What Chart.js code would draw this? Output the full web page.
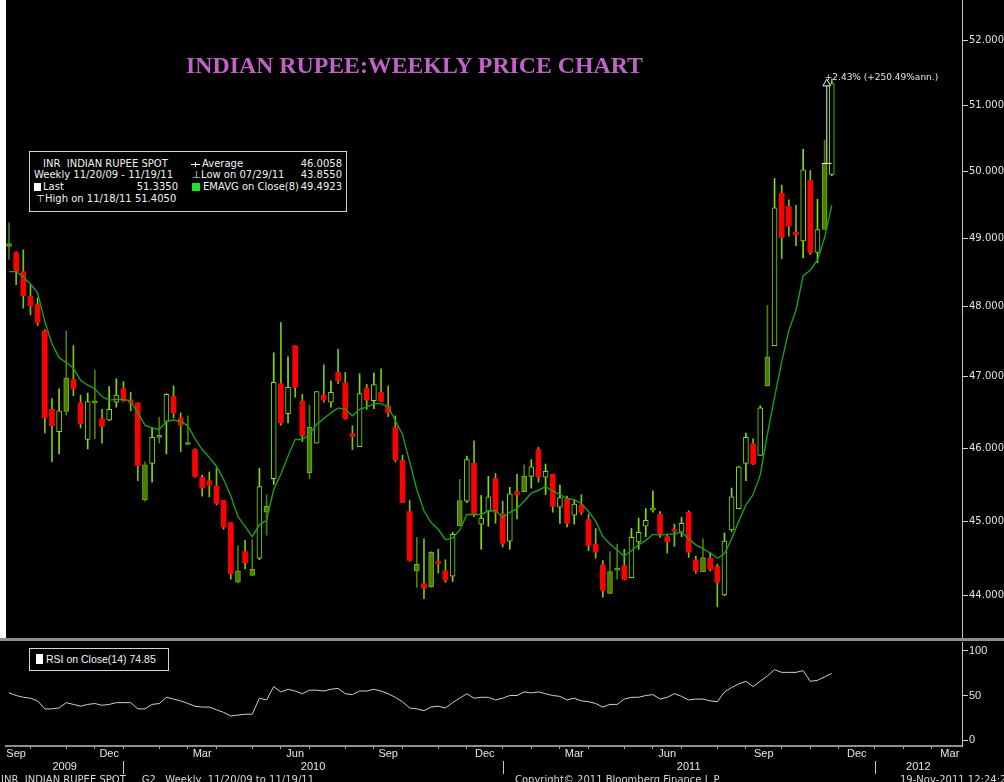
<!DOCTYPE html>
<html>
<head>
<meta charset="utf-8">
<script src="https://cdn.jsdelivr.net/npm/chart.js@4.4.1/dist/chart.umd.min.js"></script>
<style>
  html, body { margin: 0; padding: 0; background: #000; }
  body { width: 1004px; height: 782px; position: relative; overflow: hidden; font-family: "DejaVu Sans", sans-serif; color: #f2f2f2; }
  canvas { position: absolute; left: 0; }
  #main { top: 0; }
  #rsi { top: 641px; }
  #leftStrip { position: absolute; left: 0; top: 0; width: 6px; height: 638px; background: #fff; }
  #sep { position: absolute; left: 0; top: 638px; width: 1004px; height: 3px; background: #8e8e8e; }
  .abs { position: absolute; white-space: pre; line-height: 12px; }
  #title { position: absolute; left: 0; top: 52px; width: 829px; text-align: center; font: bold 23.8px "Liberation Serif", serif; color: #c262c8; }
  .box { position: absolute; border: 1px solid #d4d4d4; background: #000; }
  .lg { font-size: 10px; }
  .val { text-align: right; }
  #avgIcon { position: absolute; left: 191px; top: 164px; width: 9px; height: 1px; background: #fff; }
  #avgIcon::after { content: ""; position: absolute; left: 4px; top: -2px; width: 1px; height: 5px; background: #fff; }
  .foot { position: absolute; top: 774px; font: 10px "DejaVu Sans", sans-serif; color: #d8d8d8; white-space: pre; }
</style>
</head>
<body>
<div id="leftStrip"></div>
<canvas id="main" width="1004" height="638"></canvas>
<div id="sep"></div>
<canvas id="rsi" width="1004" height="141"></canvas>

<div id="title">INDIAN RUPEE:WEEKLY PRICE CHART</div>

<div class="box" style="left:29px;top:151px;width:316px;height:59px"></div>
<div class="abs lg" style="left:43px;top:158px">INR  INDIAN RUPEE SPOT</div>
<div id="avgIcon"></div>
<div class="abs lg" style="left:202px;top:158px">Average</div>
<div class="abs lg val" style="right:662px;top:158px">46.0058</div>
<div class="abs lg" style="left:34px;top:169px">Weekly 11/20/09 - 11/19/11</div>
<div class="abs lg" style="left:192px;top:169px">&#8869;</div>
<div class="abs lg" style="left:201px;top:169px">Low on 07/29/11</div>
<div class="abs lg val" style="right:662px;top:169px">43.8550</div>
<div style="position:absolute;left:34px;top:183px;width:7px;height:8px;background:#fff"></div>
<div class="abs lg" style="left:43px;top:181px">Last</div>
<div class="abs lg val" style="right:826px;top:181px">51.3350</div>
<div style="position:absolute;left:192px;top:183px;width:8px;height:8px;background:#1ee61e"></div>
<div class="abs lg" style="left:203px;top:181px">EMAVG on Close(8)</div>
<div class="abs lg val" style="right:662px;top:181px">49.4923</div>
<div class="abs lg" style="left:36px;top:193px">&#8868;</div>
<div class="abs lg" style="left:45px;top:193px">High on 11/18/11 51.4050</div>

<div class="box" style="left:29px;top:648px;width:138px;height:21px"></div>
<div style="position:absolute;left:36px;top:654px;width:7px;height:10px;background:#fff"></div>
<div class="abs" style="left:46px;top:653px;font:10.5px 'Liberation Sans', sans-serif">RSI on Close(14) 74.85</div>

<div class="foot" style="left:1px">INR  INDIAN RUPEE SPOT     G2   Weekly  11/20/09 to 11/19/11</div>
<div class="foot" style="left:515px">Copyright&#169; 2011 Bloomberg Finance L.P.</div>
<div class="foot" style="left:900px">19-Nov-2011 12:24:22</div>

<script>
// weekly bars, week ending Friday
const weekEnding = [
  '2009-09-04','2009-09-11','2009-09-18','2009-09-25','2009-10-02','2009-10-09','2009-10-16','2009-10-23','2009-10-30',
  '2009-11-06','2009-11-13','2009-11-20','2009-11-27','2009-12-04','2009-12-11','2009-12-18','2009-12-25',
  '2010-01-01','2010-01-08','2010-01-15','2010-01-22','2010-01-29','2010-02-05','2010-02-12','2010-02-19','2010-02-26',
  '2010-03-05','2010-03-12','2010-03-19','2010-03-26','2010-04-02','2010-04-09','2010-04-16','2010-04-23','2010-04-30',
  '2010-05-07','2010-05-14','2010-05-21','2010-05-28','2010-06-04','2010-06-11','2010-06-18','2010-06-25',
  '2010-07-02','2010-07-09','2010-07-16','2010-07-23','2010-07-30','2010-08-06','2010-08-13','2010-08-20','2010-08-27',
  '2010-09-03','2010-09-10','2010-09-17','2010-09-24','2010-10-01','2010-10-08','2010-10-15','2010-10-22','2010-10-29',
  '2010-11-05','2010-11-12','2010-11-19','2010-11-26','2010-12-03','2010-12-10','2010-12-17','2010-12-24','2010-12-31',
  '2011-01-07','2011-01-14','2011-01-21','2011-01-28','2011-02-04','2011-02-11','2011-02-18','2011-02-25',
  '2011-03-04','2011-03-11','2011-03-18','2011-03-25','2011-04-01','2011-04-08','2011-04-15','2011-04-22','2011-04-29',
  '2011-05-06','2011-05-13','2011-05-20','2011-05-27','2011-06-03','2011-06-10','2011-06-17','2011-06-24',
  '2011-07-01','2011-07-08','2011-07-15','2011-07-22','2011-07-29','2011-08-05','2011-08-12','2011-08-19','2011-08-26',
  '2011-09-02','2011-09-09','2011-09-16','2011-09-23','2011-09-30','2011-10-07','2011-10-14','2011-10-21','2011-10-28',
  '2011-11-04','2011-11-11','2011-11-18'
];

const opens = [
  48.88,48.79,48.51,48.15,48.03,47.65,46.54,46.23,46.51,46.96,
  46.63,46.12,46.63,46.41,46.39,46.64,46.83,46.67,46.63,45.29,
  45.79,46.15,46.37,46.72,46.42,46.05,45.98,45.60,45.55,45.48,
  45.28,44.98,44.18,44.59,44.27,44.50,45.12,45.58,46.90,46.48,
  47.44,46.65,45.66,46.07,46.74,46.64,47.06,46.91,46.20,46.02,
  46.84,46.66,46.78,46.59,46.29,45.83,45.13,44.33,44.16,44.12,
  44.44,44.33,44.26,44.94,45.27,45.79,44.96,45.13,45.58,45.10,
  44.73,45.40,45.40,45.61,45.98,45.60,45.64,45.19,45.31,45.08,
  45.22,45.02,44.69,44.41,44.03,44.34,44.40,44.24,44.72,44.93,
  45.15,45.09,44.79,44.88,44.85,45.12,44.48,44.32,44.50,44.39,
  44.01,44.88,45.17,45.79,46.06,45.90,46.87,47.44,49.67,49.47,
  49.09,48.96,49.86,48.79,49.13,49.95
];
const highs = [
  49.23,48.80,48.83,48.32,48.13,47.67,46.69,46.83,47.65,47.44,
  46.74,46.77,47.09,46.54,46.86,46.97,46.93,46.78,46.63,45.81,
  46.28,46.43,46.76,46.87,46.49,46.45,45.99,45.63,45.67,45.72,
  45.28,44.98,44.67,44.74,44.75,45.72,45.36,47.34,47.77,47.28,
  47.44,46.75,46.60,46.79,47.17,46.94,47.39,47.06,46.31,47.04,
  46.89,47.05,47.11,46.87,46.45,45.90,45.28,44.78,44.76,44.59,
  44.62,44.48,44.85,45.57,45.89,46.10,45.35,45.61,45.65,45.27,
  45.46,45.64,45.77,45.84,46.01,45.78,45.64,45.49,45.34,45.28,
  45.36,45.09,44.90,44.47,44.59,44.69,44.62,44.90,45.04,45.17,
  45.41,45.13,44.82,44.96,45.05,45.14,44.53,44.76,44.58,44.42,
  44.84,45.45,45.75,46.21,46.13,46.59,48.02,49.89,49.79,49.57,
  49.49,50.33,50.01,49.58,50.47,51.405
];
const lows = [
  48.69,48.32,47.98,47.88,47.73,46.21,45.81,45.92,46.46,46.73,
  46.28,45.99,46.13,46.07,46.38,46.57,46.65,46.52,45.55,45.27,
  45.53,46.07,45.92,46.42,45.95,46.05,45.60,45.34,45.33,45.22,
  44.89,44.22,44.17,44.36,44.27,44.48,44.81,45.50,46.32,46.35,
  46.71,46.09,45.58,46.07,46.64,46.57,46.90,46.40,45.98,46.02,
  46.54,46.55,46.65,46.44,45.81,45.25,44.46,44.11,43.96,44.11,
  44.30,44.18,44.19,44.94,45.25,45.06,44.62,44.93,44.97,44.65,
  44.62,45.03,45.40,45.45,45.53,45.36,45.12,44.97,44.92,44.96,
  45.09,44.60,44.50,43.98,44.03,44.22,44.21,44.24,44.62,44.79,
  45.12,44.78,44.57,44.66,44.79,44.51,44.30,44.32,44.33,43.855,
  44.00,44.86,45.17,45.55,45.77,45.90,46.87,47.44,48.70,49.03,
  48.89,48.71,48.76,48.64,49.13,49.93
];
const closes = [
  48.92,48.51,48.16,48.01,47.77,46.42,46.31,46.52,46.98,46.83,
  46.34,46.65,46.65,46.30,46.54,46.74,46.66,46.63,45.76,45.77,
  46.15,46.17,46.75,46.49,46.32,46.07,45.61,45.45,45.49,45.24,
  44.92,44.29,44.33,44.44,44.35,45.47,45.20,46.92,46.35,46.85,
  46.85,46.17,46.29,46.79,46.67,46.78,46.94,46.41,46.16,46.76,
  46.67,46.89,46.65,46.49,45.84,45.25,44.47,44.42,44.10,44.58,
  44.43,44.21,44.82,45.28,45.84,45.10,45.04,45.33,45.12,44.70,
  45.37,45.36,45.61,45.74,45.60,45.68,45.20,45.32,44.97,45.23,
  45.12,44.67,44.58,44.07,44.32,44.35,44.22,44.78,44.85,45.01,
  45.16,44.83,44.72,44.86,44.97,44.58,44.33,44.51,44.35,44.18,
  44.73,45.33,45.74,46.15,45.78,46.56,47.28,49.45,49.01,49.18,
  49.05,50.02,48.79,49.13,50.117,51.335
];
// candle body as drawn: r = red filled, h = hollow green, d = solid dark green
const bodyKind = ('drrrrrrhdr' + 'rhdrhhrrrd' + 'hdhrrdrrrr' + 'rrdrdhdhrh' + 'rrdhrhrrrh' +
                  'rhrrrrrdrd' + 'rrhdhrhhrr' + 'hrdhrhrhrh' + 'rrrrddrhhh' + 'hrrrhrrdrr' +
                  'hhhhrhdhrr' + 'rhrhdh').split('');

const emaClose8 = [
  48.51,48.51,48.43,48.33,48.20,47.79,47.47,47.27,47.20,47.12,
  46.95,46.88,46.83,46.72,46.67,46.68,46.68,46.66,46.49,46.32,
  46.28,46.26,46.37,46.39,46.37,46.31,46.13,45.98,45.87,45.75,
  45.57,45.34,45.06,44.93,44.79,44.95,45.01,45.43,45.64,45.89,
  46.12,46.12,46.19,46.33,46.41,46.49,46.56,46.54,46.45,46.54,
  46.57,46.62,46.62,46.58,46.38,46.19,45.81,45.43,45.14,44.98,
  44.89,44.75,44.77,44.88,45.09,45.09,45.09,45.14,45.14,45.05,
  45.12,45.17,45.27,45.38,45.42,45.47,45.41,45.36,45.31,45.29,
  45.24,45.13,45.00,44.79,44.69,44.61,44.53,44.60,44.68,44.74,
  44.82,44.81,44.82,44.83,44.85,44.76,44.68,44.63,44.57,44.50,
  44.56,44.76,45.00,45.22,45.36,45.63,46.19,46.71,47.21,47.66,
  47.95,48.45,48.53,48.68,49.01,49.4923
];
const rsiClose14 = [
  53,50,48,47,44,35,35,36,42,40,
  38,40,41,39,40,42,42,42,35,35,
  40,41,48,46,44,41,38,37,37,34,
  31,27,28,29,29,47,45,60,54,57,
  55,52,56,56,55,57,58,52,51,55,
  55,57,55,52,48,43,36,35,33,37,
  38,36,42,47,52,47,48,48,45,47,
  50,50,54,53,54,52,50,49,45,47,
  44,43,41,37,40,40,46,48,48,50,
  51,46,48,52,49,45,46,46,44,43,
  54,59,63,66,60,66,72,79,76,76,
  76,78,66,67,71,74.85
];

const priceTicks = [44, 45, 46, 47, 48, 49, 50, 51, 52];
const rsiTicks = [0, 50, 100];
const monthNames = ['Jan','Feb','Mar','Apr','May','Jun','Jul','Aug','Sep','Oct','Nov','Dec'];
const labelledMonths = [2, 5, 8, 11];   // Mar, Jun, Sep, Dec
const years = [2009, 2010, 2011, 2012];
const delta = { at: 114.3, from: 50.117, to: 51.335, text: '+2.43% (+250.49%ann.)' };

// visible window in bar units and value ranges of the two panels
const xMin = -0.42, xMax = 133.2;
const priceMin = 43.444, priceMax = 52.644;
const rsiMin = -6.7, rsiMax = 110.1;

const DAY = 864e5;
const t0 = Date.parse(weekEnding[0]);
// month boundary = last weekly bar dated before the 1st of the month
function monthEdge(y, m) {
  const d = (Date.UTC(y, m, 1) - t0) / DAY;
  return Math.floor((d - 1) / 7);
}

const axisTicks = [];
for (let y = 2009; y <= 2012; y++) {
  for (let m = 0; m < 12; m++) {
    const a = monthEdge(y, m), b = monthEdge(y, m + 1);
    if (a >= xMin && a <= xMax) axisTicks.push({ value: a, label: '' });
    if (labelledMonths.includes(m)) {
      const c = (a + b) / 2;
      if (c >= xMin && c <= xMax) axisTicks.push({ value: c, label: monthNames[m] });
    }
  }
}
axisTicks.sort((p, q) => p.value - q.value);

const kindStyle = {
  r: { fill: '#ff0000', edge: '#ff0000', wick: '#79c80a' },
  h: { fill: '#000000', edge: '#82e000', wick: '#82e000' },
  d: { fill: '#4b7d00', edge: '#6cb400', wick: '#4d8000' }
};

const idx = weekEnding.map((_, i) => i);
const wickData = idx.map(i => ({ x: i, y: [lows[i], highs[i]] }));
const bodyData = idx.map(i => ({ x: i, y: [opens[i], closes[i]] }));
const emaData = idx.map(i => ({ x: i, y: emaClose8[i] }));
const rsiData = idx.map(i => ({ x: i, y: rsiClose14[i] }));

const deltaLabel = {
  id: 'deltaLabel',
  afterDatasetsDraw(chart) {
    const meta = chart.getDatasetMeta(3);
    const top = meta.data[1];
    const ctx = chart.ctx;
    ctx.save();
    ctx.fillStyle = '#e4e4e4';
    ctx.font = '9px "DejaVu Sans"';
    ctx.textAlign = 'left';
    ctx.textBaseline = 'middle';
    ctx.fillText(delta.text, top.x - 2, top.y - 6);
    ctx.restore();
  }
};

new Chart(document.getElementById('main').getContext('2d'), {
  type: 'bar',
  data: {
    datasets: [
      {
        type: 'line', label: 'EMAVG on Close(8)', data: emaData,
        borderColor: '#18a018', borderWidth: 1.4, pointRadius: 0, tension: 0, order: 1
      },
      {
        label: 'body', data: bodyData, grouped: false, barThickness: 5, minBarLength: 2,
        backgroundColor: c => kindStyle[bodyKind[c.dataIndex]].fill,
        borderColor: c => kindStyle[bodyKind[c.dataIndex]].edge,
        borderWidth: c => bodyKind[c.dataIndex] === 'r' ? 0 : 1,
        borderSkipped: false, order: 2
      },
      {
        label: 'wick', data: wickData, grouped: false, barThickness: 1,
        backgroundColor: c => kindStyle[bodyKind[c.dataIndex]].wick,
        borderWidth: 0, order: 3
      },
      {
        type: 'line', label: 'delta',
        data: [{ x: delta.at, y: delta.from }, { x: delta.at, y: delta.to }],
        borderColor: '#f0f0f0', borderWidth: 1, tension: 0,
        pointStyle: ['line', 'triangle'], pointRadius: [5, 4.5],
        pointBorderColor: '#f0f0f0', pointBackgroundColor: '#000', pointBorderWidth: 1, order: 0
      }
    ]
  },
  options: {
    responsive: false,
    animation: false,
    events: [],
    layout: { autoPadding: false, padding: { left: 6, right: 0, top: 0, bottom: 0 } },
    plugins: { legend: { display: false }, tooltip: { enabled: false } },
    scales: {
      x: { type: 'linear', offset: false, min: xMin, max: xMax, display: false },
      y: {
        type: 'logarithmic', position: 'right', min: priceMin, max: priceMax,
        afterBuildTicks: s => { s.ticks = priceTicks.map(v => ({ value: v })); },
        afterFit: s => { s.width = 42; s.paddingTop = 0; s.paddingBottom = 0; },
        ticks: {
          autoSkip: false, padding: 1, color: '#e2e2e2',
          font: { family: 'DejaVu Sans', size: 10 },
          callback: v => Number(v).toFixed(3)
        },
        grid: { drawOnChartArea: false, tickLength: 6, tickColor: '#d0d0d0' },
        border: { display: true, color: '#c4c4c4', width: 1 }
      }
    }
  },
  plugins: [deltaLabel]
});

const yearRow = {
  id: 'yearRow',
  afterDraw(chart) {
    const xs = chart.scales.x;
    const ctx = chart.ctx;
    ctx.save();
    ctx.fillStyle = '#e6e6e6';
    ctx.strokeStyle = '#c8c8c8';
    ctx.lineWidth = 1;
    ctx.font = '11px "Liberation Sans"';
    ctx.textAlign = 'center';
    ctx.textBaseline = 'middle';
    years.forEach(y => {
      const a = Math.max(monthEdge(y, 0), xMin);
      const bEdge = monthEdge(y + 1, 0);
      const b = Math.min(bEdge, xMax);
      const pa = xs.getPixelForValue(a), pb = xs.getPixelForValue(b);
      ctx.fillText(String(y), (pa + pb) / 2, 126);
      if (bEdge < xMax) {
        const px = Math.round(pb) + 0.5;
        ctx.beginPath();
        ctx.moveTo(px, 120);
        ctx.lineTo(px, 133);
        ctx.stroke();
      }
    });
    ctx.restore();
  }
};

new Chart(document.getElementById('rsi').getContext('2d'), {
  type: 'line',
  data: {
    datasets: [{
      label: 'RSI on Close(14)', data: rsiData,
      borderColor: '#cfcfcf', borderWidth: 1, pointRadius: 0, tension: 0
    }]
  },
  options: {
    responsive: false,
    animation: false,
    events: [],
    layout: { autoPadding: false, padding: { left: 6, right: 0, top: 1, bottom: 22 } },
    plugins: { legend: { display: false }, tooltip: { enabled: false } },
    scales: {
      x: {
        type: 'linear', offset: false, min: xMin, max: xMax, position: 'bottom',
        afterBuildTicks: s => { s.ticks = axisTicks.map(t => ({ value: t.value })); },
        afterFit: s => { s.height = 14; s.paddingLeft = 0; s.paddingRight = 0; },
        ticks: {
          autoSkip: false, maxRotation: 0, minRotation: 0, padding: -2,
          color: '#e8e8e8', font: { family: 'Liberation Sans', size: 11 },
          callback: (v, i) => axisTicks[i] ? axisTicks[i].label : ''
        },
        grid: {
          drawOnChartArea: false, tickLength: 3,
          tickColor: c => (axisTicks[c.index] && axisTicks[c.index].label) ? 'rgba(0,0,0,0)' : '#a8a8a8'
        },
        border: { display: true, color: '#8e8e8e', width: 2 }
      },
      y: {
        position: 'right', min: rsiMin, max: rsiMax,
        afterBuildTicks: s => { s.ticks = rsiTicks.map(v => ({ value: v })); },
        afterFit: s => { s.width = 42; s.paddingTop = 0; s.paddingBottom = 0; },
        ticks: {
          autoSkip: false, padding: 1, color: '#e2e2e2',
          font: { family: 'Liberation Sans', size: 11 },
          callback: v => String(v)
        },
        grid: { drawOnChartArea: false, tickLength: 6, tickColor: '#d0d0d0' },
        border: { display: true, color: '#c4c4c4', width: 1 }
      }
    }
  },
  plugins: [yearRow]
});
</script>
</body>
</html>
